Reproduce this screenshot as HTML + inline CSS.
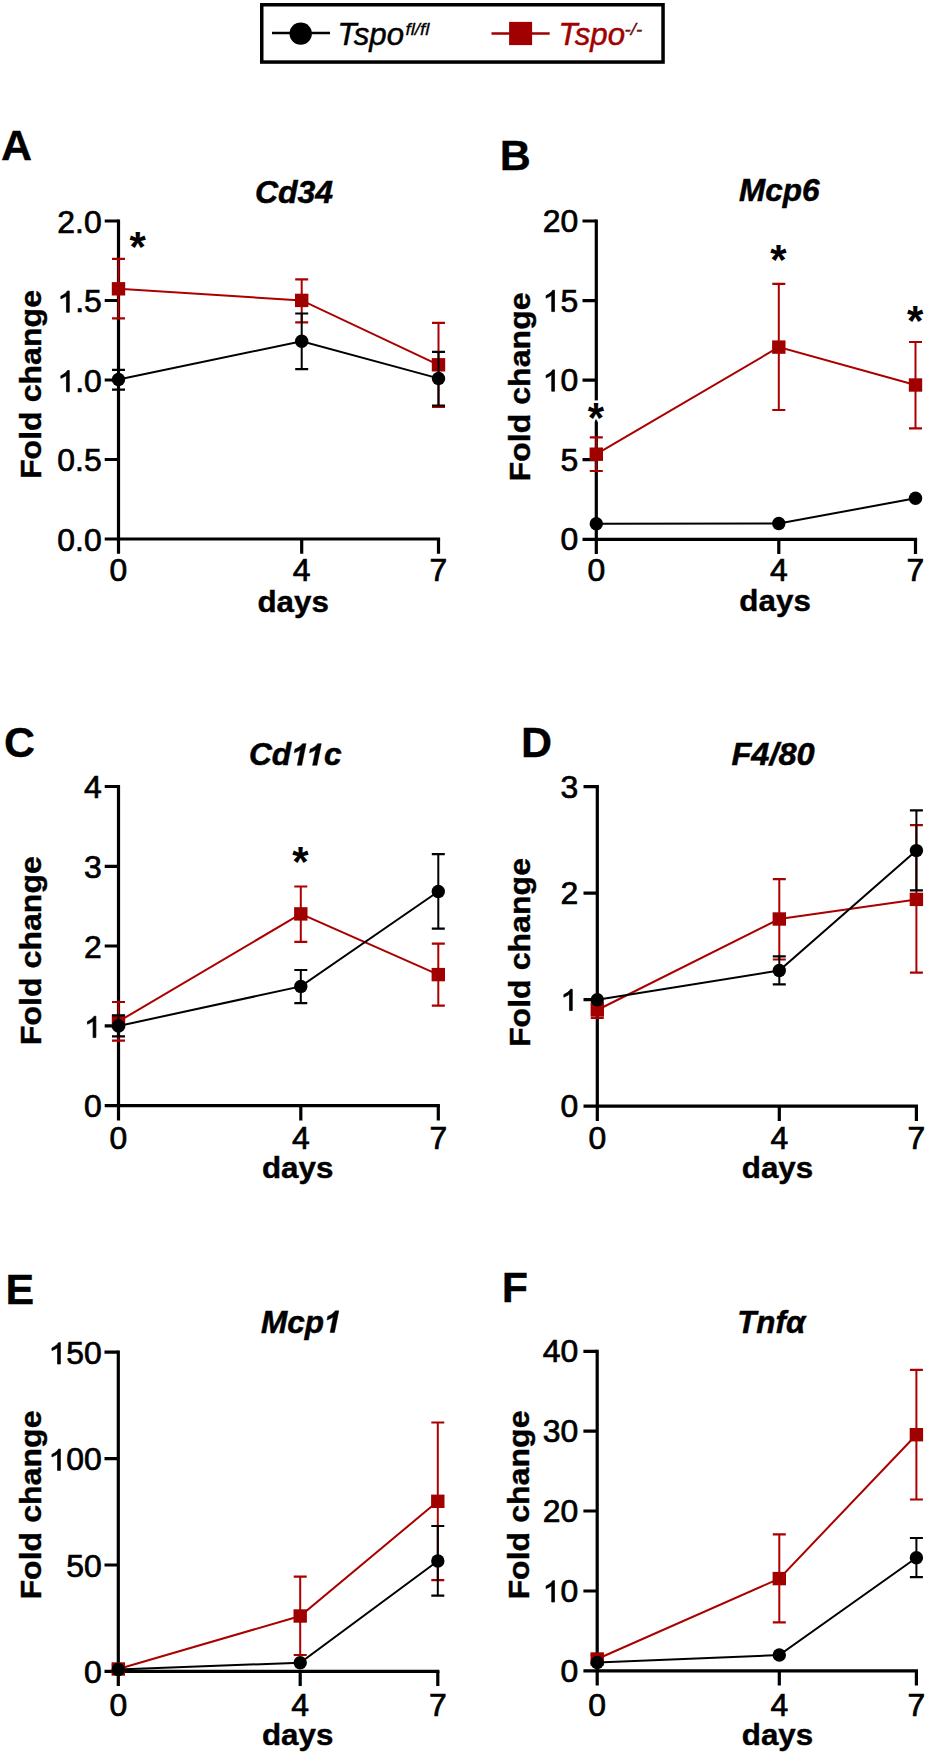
<!DOCTYPE html>
<html><head><meta charset="utf-8"><title>Tspo figure</title>
<style>
html,body{margin:0;padding:0;background:#fff;}
body{width:930px;height:1755px;overflow:hidden;}
svg{display:block;}
text{font-family:'Liberation Sans', sans-serif;}
.tk{font-size:31px;stroke:#000;stroke-width:0.7px;}
.lab{font-size:30.3px;font-weight:bold;stroke:#000;stroke-width:0.4px;}
.tit{font-size:31.5px;font-weight:bold;font-style:italic;stroke:#000;stroke-width:0.5px;}
.let{font-size:43px;font-weight:bold;stroke:#000;stroke-width:0.3px;}
.leg{font-size:32px;font-style:italic;stroke:#000;stroke-width:0.5px;}
.red{fill:#a00000;stroke:#a00000;}
.sup{font-size:17px;font-style:italic;stroke:#000;stroke-width:0.3px;}
.star{font-size:42px;font-weight:bold;}
.h{fill-opacity:0;stroke-opacity:0;}
.onetk{fill:#000;stroke:#000;stroke-width:0.7px;}
.onetit{fill:#000;stroke:#000;stroke-width:0.5px;}
.halo{fill:#fff;stroke:#fff;stroke-width:5px;}
</style></head>
<body>
<svg width="930" height="1755" viewBox="0 0 930 1755">
<rect width="930" height="1755" fill="#fff"/>
<rect x="261.75" y="4.75" width="401.3" height="57.3" fill="#fff" stroke="#000" stroke-width="3.5"/>
<path d="M272 33H330" stroke="#000" stroke-width="2.5"/>
<circle cx="300.7" cy="33.6" r="11.2" fill="#000"/>
<text transform="translate(337.5 45.3) scale(0.975 1.0)" class="leg">Tspo</text>
<text transform="translate(405.5 35) scale(1.1 1.0)" class="sup">fl/fl</text>
<path d="M491.5 33.4H549.7" stroke="#a00000" stroke-width="2.5"/>
<rect x="509.1" y="21.9" width="23" height="23.2" fill="#a00000"/>
<text transform="translate(558.5 45.4) scale(0.975 1.0)" class="leg red">Tspo</text>
<text transform="translate(624.5 35) scale(1.1 1.0)" class="sup red">-/-</text>
<path d="M118.5 221V539M118.5 539H438.5" stroke="#000" stroke-width="3.2" fill="none" stroke-linecap="square"/>
<path d="M104.7 221H118.5M104.7 300.5H118.5M104.7 380H118.5M104.7 459.5H118.5M104.7 539H118.5M118.5 539V553.8M301.7 539V553.8M438.5 539V553.8" stroke="#000" stroke-width="3.2" fill="none"/>
<text transform="translate(101.75 232.8) scale(1.03 1.0)" text-anchor="end" class="tk">2.0</text>
<g transform="translate(101.75 312.3) scale(1.03 1.0)"><text text-anchor="end" class="tk"><tspan class="h">1</tspan>.5</text><path class="onetk" d="M-31.53 -0L-34.26 -0L-34.26 -16.62Q-35.24 -15.72 -36.85 -14.82Q-38.45 -13.92 -39.72 -13.47L-39.72 -16Q-37.44 -17.02 -35.73 -18.49Q-34.02 -19.95 -33.31 -21.33L-31.53 -21.33Z"/></g>
<g transform="translate(101.75 391.8) scale(1.03 1.0)"><text text-anchor="end" class="tk"><tspan class="h">1</tspan>.0</text><path class="onetk" d="M-31.53 -0L-34.26 -0L-34.26 -16.62Q-35.24 -15.72 -36.85 -14.82Q-38.45 -13.92 -39.72 -13.47L-39.72 -16Q-37.44 -17.02 -35.73 -18.49Q-34.02 -19.95 -33.31 -21.33L-31.53 -21.33Z"/></g>
<text transform="translate(101.75 471.3) scale(1.03 1.0)" text-anchor="end" class="tk">0.5</text>
<text transform="translate(101.75 550.8) scale(1.03 1.0)" text-anchor="end" class="tk">0.0</text>
<text transform="translate(118.5 581) scale(1.03 1.0)" text-anchor="middle" class="tk">0</text>
<text transform="translate(301.7 581) scale(1.03 1.0)" text-anchor="middle" class="tk">4</text>
<text transform="translate(438.5 581) scale(1.03 1.0)" text-anchor="middle" class="tk">7</text>
<text transform="translate(257.45 611.7) scale(1.035 1.0)" class="lab">days</text>
<text transform="translate(41 384.5) rotate(-90) scale(1.06 1)" text-anchor="middle" class="lab">Fold change</text>
<text transform="translate(255 202.7) scale(1.015 1.0)" class="tit">Cd34</text>
<text transform="translate(1 160)" class="let">A</text>
<polyline points="118.5,288.8 301.7,300.4 438.5,364.8" fill="none" stroke="#aa0000" stroke-width="2.0"/>
<path d="M118.5 258.8V318.4M301.7 279.4V322.3M438.5 322.8V407" stroke="#aa0000" stroke-width="2.0" fill="none"/>
<path d="M112 258.8H125M112 318.4H125M295.2 279.4H308.2M295.2 322.3H308.2M432 322.8H445M432 407H445" stroke="#aa0000" stroke-width="2.2" fill="none"/>
<rect x="111.8" y="282.1" width="13.4" height="13.4" fill="#a00000"/>
<rect x="295" y="293.7" width="13.4" height="13.4" fill="#a00000"/>
<rect x="431.8" y="358.1" width="13.4" height="13.4" fill="#a00000"/>
<polyline points="118.5,379.5 301.7,341.2 438.5,378.4" fill="none" stroke="#000000" stroke-width="2.0"/>
<path d="M118.5 369.9V389.7M301.7 313.5V369.1M438.5 351.9V405.5" stroke="#000000" stroke-width="2.0" fill="none"/>
<path d="M112 369.9H125M112 389.7H125M295.2 313.5H308.2M295.2 369.1H308.2M432 351.9H445M432 405.5H445" stroke="#000000" stroke-width="2.2" fill="none"/>
<circle cx="118.5" cy="379.5" r="6.7" fill="#000000"/>
<circle cx="301.7" cy="341.2" r="6.7" fill="#000000"/>
<circle cx="438.5" cy="378.4" r="6.7" fill="#000000"/>
<text transform="translate(137.7 261.3)" text-anchor="middle" class="star">*</text>
<path d="M596.3 221V539.3M596.3 539.3H915.5" stroke="#000" stroke-width="3.2" fill="none" stroke-linecap="square"/>
<path d="M582.5 221H596.3M582.5 300.6H596.3M582.5 380.2H596.3M582.5 459.7H596.3M582.5 539.3H596.3M596.3 539.3V554.1M778.8 539.3V554.1M915.5 539.3V554.1" stroke="#000" stroke-width="3.2" fill="none"/>
<text transform="translate(578.14 232) scale(1.03 1.0)" text-anchor="end" class="tk">20</text>
<g transform="translate(578.14 311.6) scale(1.03 1.0)"><text text-anchor="end" class="tk"><tspan class="h">1</tspan>5</text><path class="onetk" d="M-22.93 -0L-25.65 -0L-25.65 -16.62Q-26.64 -15.72 -28.24 -14.82Q-29.85 -13.92 -31.12 -13.47L-31.12 -16Q-28.83 -17.02 -27.12 -18.49Q-25.41 -19.95 -24.7 -21.33L-22.93 -21.33Z"/></g>
<g transform="translate(578.14 391.2) scale(1.03 1.0)"><text text-anchor="end" class="tk"><tspan class="h">1</tspan>0</text><path class="onetk" d="M-22.93 -0L-25.65 -0L-25.65 -16.62Q-26.64 -15.72 -28.24 -14.82Q-29.85 -13.92 -31.12 -13.47L-31.12 -16Q-28.83 -17.02 -27.12 -18.49Q-25.41 -19.95 -24.7 -21.33L-22.93 -21.33Z"/></g>
<text transform="translate(578.14 470.7) scale(1.03 1.0)" text-anchor="end" class="tk">5</text>
<text transform="translate(578.14 550.3) scale(1.03 1.0)" text-anchor="end" class="tk">0</text>
<text transform="translate(596.3 581) scale(1.03 1.0)" text-anchor="middle" class="tk">0</text>
<text transform="translate(778.8 581) scale(1.03 1.0)" text-anchor="middle" class="tk">4</text>
<text transform="translate(915.5 581) scale(1.03 1.0)" text-anchor="middle" class="tk">7</text>
<text transform="translate(739.35 610.8) scale(1.035 1.0)" class="lab">days</text>
<text transform="translate(529.5 386.9) rotate(-90) scale(1.06 1)" text-anchor="middle" class="lab">Fold change</text>
<text transform="translate(739 201)" class="tit">Mcp6</text>
<text transform="translate(499.8 169.7)" class="let">B</text>
<polyline points="596.3,454.2 778.8,347.1 915.5,385" fill="none" stroke="#aa0000" stroke-width="2.0"/>
<path d="M596.3 437.4V471M778.8 283.9V410M915.5 342V428.4" stroke="#aa0000" stroke-width="2.0" fill="none"/>
<path d="M589.8 437.4H602.8M589.8 471H602.8M772.3 283.9H785.3M772.3 410H785.3M909 342H922M909 428.4H922" stroke="#aa0000" stroke-width="2.2" fill="none"/>
<rect x="589.6" y="447.5" width="13.4" height="13.4" fill="#a00000"/>
<rect x="772.1" y="340.4" width="13.4" height="13.4" fill="#a00000"/>
<rect x="908.8" y="378.3" width="13.4" height="13.4" fill="#a00000"/>
<polyline points="596.3,523.7 778.8,523.5 915.5,498.3" fill="none" stroke="#000000" stroke-width="2.0"/>
<circle cx="596.3" cy="523.7" r="6.7" fill="#000000"/>
<circle cx="778.8" cy="523.5" r="6.7" fill="#000000"/>
<circle cx="915.5" cy="498.3" r="6.7" fill="#000000"/>
<text transform="translate(596 432.2)" text-anchor="middle" class="star halo">*</text>
<text transform="translate(596 432.2)" text-anchor="middle" class="star">*</text>
<text transform="translate(778.3 274.4)" text-anchor="middle" class="star">*</text>
<text transform="translate(915.2 334.7)" text-anchor="middle" class="star">*</text>
<path d="M118.5 786.5V1105.6M118.5 1105.6H438.3" stroke="#000" stroke-width="3.2" fill="none" stroke-linecap="square"/>
<path d="M104.7 786.5H118.5M104.7 866.3H118.5M104.7 946H118.5M104.7 1025.8H118.5M104.7 1105.6H118.5M118.5 1105.6V1120.4M300.8 1105.6V1120.4M438.3 1105.6V1120.4" stroke="#000" stroke-width="3.2" fill="none"/>
<text transform="translate(101.75 798.3) scale(1.03 1.0)" text-anchor="end" class="tk">4</text>
<text transform="translate(101.75 878.1) scale(1.03 1.0)" text-anchor="end" class="tk">3</text>
<text transform="translate(101.75 957.8) scale(1.03 1.0)" text-anchor="end" class="tk">2</text>
<g transform="translate(101.75 1037.6) scale(1.03 1.0)"><text text-anchor="end" class="tk"><tspan class="h">1</tspan></text><path class="onetk" d="M-5.69 -0L-8.41 -0L-8.41 -16.62Q-9.4 -15.72 -11 -14.82Q-12.61 -13.92 -13.88 -13.47L-13.88 -16Q-11.59 -17.02 -9.88 -18.49Q-8.17 -19.95 -7.46 -21.33L-5.69 -21.33Z"/></g>
<text transform="translate(101.75 1117.4) scale(1.03 1.0)" text-anchor="end" class="tk">0</text>
<text transform="translate(118.5 1149) scale(1.03 1.0)" text-anchor="middle" class="tk">0</text>
<text transform="translate(300.8 1149) scale(1.03 1.0)" text-anchor="middle" class="tk">4</text>
<text transform="translate(438.3 1149) scale(1.03 1.0)" text-anchor="middle" class="tk">7</text>
<text transform="translate(261.95 1177.9) scale(1.035 1.0)" class="lab">days</text>
<text transform="translate(40.7 950.6) rotate(-90) scale(1.06 1)" text-anchor="middle" class="lab">Fold change</text>
<g transform="translate(249 765.3) scale(1.005 1.0)"><text class="tit">Cd<tspan class="h">1</tspan><tspan class="h" dx="-2.34">1</tspan>c</text><path class="onetit" d="M52.42 -0L48.09 -0L51.21 -15.59Q48.42 -13.47 45 -12.46L45.75 -16.21Q47.55 -16.74 49.83 -18.21Q52.11 -19.7 53.24 -21.67L56.75 -21.67ZM67.6 -0L63.27 -0L66.39 -15.59Q63.6 -13.47 60.18 -12.46L60.93 -16.21Q62.73 -16.74 65.01 -18.21Q67.29 -19.7 68.42 -21.67L71.93 -21.67Z"/></g>
<text transform="translate(4 757)" class="let">C</text>
<polyline points="118.5,1021.5 300.8,913.9 438.3,974.6" fill="none" stroke="#aa0000" stroke-width="2.0"/>
<path d="M118.5 1002V1040.6M300.8 886.5V941.8M438.3 943.6V1005.7" stroke="#aa0000" stroke-width="2.0" fill="none"/>
<path d="M112 1002H125M112 1040.6H125M294.3 886.5H307.3M294.3 941.8H307.3M431.8 943.6H444.8M431.8 1005.7H444.8" stroke="#aa0000" stroke-width="2.2" fill="none"/>
<rect x="111.8" y="1014.8" width="13.4" height="13.4" fill="#a00000"/>
<rect x="294.1" y="907.2" width="13.4" height="13.4" fill="#a00000"/>
<rect x="431.6" y="967.9" width="13.4" height="13.4" fill="#a00000"/>
<polyline points="118.5,1026 300.8,986.4 438.3,891.5" fill="none" stroke="#000000" stroke-width="2.0"/>
<path d="M118.5 1015.4V1036.3M300.8 970V1003.1M438.3 854.2V928.7" stroke="#000000" stroke-width="2.0" fill="none"/>
<path d="M112 1015.4H125M112 1036.3H125M294.3 970H307.3M294.3 1003.1H307.3M431.8 854.2H444.8M431.8 928.7H444.8" stroke="#000000" stroke-width="2.2" fill="none"/>
<circle cx="118.5" cy="1026" r="6.7" fill="#000000"/>
<circle cx="300.8" cy="986.4" r="6.7" fill="#000000"/>
<circle cx="438.3" cy="891.5" r="6.7" fill="#000000"/>
<text transform="translate(300.4 875.9)" text-anchor="middle" class="star">*</text>
<path d="M597.3 786.7V1106.2M597.3 1106.2H916.4" stroke="#000" stroke-width="3.2" fill="none" stroke-linecap="square"/>
<path d="M583.5 786.7H597.3M583.5 893.2H597.3M583.5 999.6H597.3M583.5 1106.2H597.3M597.3 1106.2V1121M779.3 1106.2V1121M916.4 1106.2V1121" stroke="#000" stroke-width="3.2" fill="none"/>
<text transform="translate(578.14 797.7) scale(1.03 1.0)" text-anchor="end" class="tk">3</text>
<text transform="translate(578.14 904.2) scale(1.03 1.0)" text-anchor="end" class="tk">2</text>
<g transform="translate(578.14 1010.6) scale(1.03 1.0)"><text text-anchor="end" class="tk"><tspan class="h">1</tspan></text><path class="onetk" d="M-5.69 -0L-8.41 -0L-8.41 -16.62Q-9.4 -15.72 -11 -14.82Q-12.61 -13.92 -13.88 -13.47L-13.88 -16Q-11.59 -17.02 -9.88 -18.49Q-8.17 -19.95 -7.46 -21.33L-5.69 -21.33Z"/></g>
<text transform="translate(578.14 1117.2) scale(1.03 1.0)" text-anchor="end" class="tk">0</text>
<text transform="translate(597.3 1149) scale(1.03 1.0)" text-anchor="middle" class="tk">0</text>
<text transform="translate(779.3 1149) scale(1.03 1.0)" text-anchor="middle" class="tk">4</text>
<text transform="translate(916.4 1149) scale(1.03 1.0)" text-anchor="middle" class="tk">7</text>
<text transform="translate(741.75 1177.7) scale(1.035 1.0)" class="lab">days</text>
<text transform="translate(529.5 952.5) rotate(-90) scale(1.06 1)" text-anchor="middle" class="lab">Fold change</text>
<text transform="translate(731.4 764.7) scale(1.035 1.0)" class="tit">F4/80</text>
<text transform="translate(520.9 757)" class="let">D</text>
<polyline points="597.3,1010 779.3,919 916.4,899.4" fill="none" stroke="#aa0000" stroke-width="2.0"/>
<path d="M597.3 1003V1018M779.3 879.1V959.5M916.4 825.1V972.6" stroke="#aa0000" stroke-width="2.0" fill="none"/>
<path d="M590.8 1003H603.8M590.8 1018H603.8M772.8 879.1H785.8M772.8 959.5H785.8M909.9 825.1H922.9M909.9 972.6H922.9" stroke="#aa0000" stroke-width="2.2" fill="none"/>
<rect x="590.6" y="1003.3" width="13.4" height="13.4" fill="#a00000"/>
<rect x="772.6" y="912.3" width="13.4" height="13.4" fill="#a00000"/>
<rect x="909.7" y="892.7" width="13.4" height="13.4" fill="#a00000"/>
<polyline points="597.3,999.7 779.3,970.5 916.4,850.6" fill="none" stroke="#000000" stroke-width="2.0"/>
<path d="M779.3 956.4V984.3M916.4 810.4V890.3" stroke="#000000" stroke-width="2.0" fill="none"/>
<path d="M772.8 956.4H785.8M772.8 984.3H785.8M909.9 810.4H922.9M909.9 890.3H922.9" stroke="#000000" stroke-width="2.2" fill="none"/>
<circle cx="597.3" cy="999.7" r="6.7" fill="#000000"/>
<circle cx="779.3" cy="970.5" r="6.7" fill="#000000"/>
<circle cx="916.4" cy="850.6" r="6.7" fill="#000000"/>
<path d="M118.3 1352.2V1671.3M118.3 1671.3H437.8" stroke="#000" stroke-width="3.2" fill="none" stroke-linecap="square"/>
<path d="M104.5 1352.2H118.3M104.5 1458.6H118.3M104.5 1565H118.3M104.5 1671.3H118.3M118.3 1671.3V1686.1M300.2 1671.3V1686.1M437.8 1671.3V1686.1" stroke="#000" stroke-width="3.2" fill="none"/>
<g transform="translate(101.75 1364) scale(1.03 1.0)"><text text-anchor="end" class="tk"><tspan class="h">1</tspan>50</text><path class="onetk" d="M-40.17 -0L-42.89 -0L-42.89 -16.62Q-43.88 -15.72 -45.48 -14.82Q-47.09 -13.92 -48.36 -13.47L-48.36 -16Q-46.07 -17.02 -44.36 -18.49Q-42.65 -19.95 -41.94 -21.33L-40.17 -21.33Z"/></g>
<g transform="translate(101.75 1470.4) scale(1.03 1.0)"><text text-anchor="end" class="tk"><tspan class="h">1</tspan>00</text><path class="onetk" d="M-40.17 -0L-42.89 -0L-42.89 -16.62Q-43.88 -15.72 -45.48 -14.82Q-47.09 -13.92 -48.36 -13.47L-48.36 -16Q-46.07 -17.02 -44.36 -18.49Q-42.65 -19.95 -41.94 -21.33L-40.17 -21.33Z"/></g>
<text transform="translate(101.75 1576.8) scale(1.03 1.0)" text-anchor="end" class="tk">50</text>
<text transform="translate(101.75 1683.1) scale(1.03 1.0)" text-anchor="end" class="tk">0</text>
<text transform="translate(118.3 1716) scale(1.03 1.0)" text-anchor="middle" class="tk">0</text>
<text transform="translate(300.2 1716) scale(1.03 1.0)" text-anchor="middle" class="tk">4</text>
<text transform="translate(437.8 1716) scale(1.03 1.0)" text-anchor="middle" class="tk">7</text>
<text transform="translate(261.95 1745) scale(1.035 1.0)" class="lab">days</text>
<text transform="translate(40.7 1505) rotate(-90) scale(1.06 1)" text-anchor="middle" class="lab">Fold change</text>
<g transform="translate(261 1332.5)"><text class="tit">Mcp<tspan class="h">1</tspan></text><path class="onetit" d="M73.44 -0L69.12 -0L72.24 -15.59Q69.45 -13.47 66.03 -12.46L66.78 -16.21Q68.58 -16.74 70.86 -18.21Q73.14 -19.7 74.27 -21.67L77.78 -21.67Z"/></g>
<text transform="translate(5.5 1304)" class="let">E</text>
<polyline points="118.3,1669 300.2,1616 437.8,1501.3" fill="none" stroke="#aa0000" stroke-width="2.0"/>
<path d="M118.3 1665V1673M300.2 1576.6V1655M437.8 1422.5V1580.2" stroke="#aa0000" stroke-width="2.0" fill="none"/>
<path d="M111.8 1665H124.8M111.8 1673H124.8M293.7 1576.6H306.7M293.7 1655H306.7M431.3 1422.5H444.3M431.3 1580.2H444.3" stroke="#aa0000" stroke-width="2.2" fill="none"/>
<rect x="111.6" y="1662.3" width="13.4" height="13.4" fill="#a00000"/>
<rect x="293.5" y="1609.3" width="13.4" height="13.4" fill="#a00000"/>
<rect x="431.1" y="1494.6" width="13.4" height="13.4" fill="#a00000"/>
<polyline points="118.3,1669.5 300.2,1662.7 437.8,1561" fill="none" stroke="#000000" stroke-width="2.0"/>
<path d="M437.8 1526V1595.7" stroke="#000000" stroke-width="2.0" fill="none"/>
<path d="M431.3 1526H444.3M431.3 1595.7H444.3" stroke="#000000" stroke-width="2.2" fill="none"/>
<circle cx="118.3" cy="1669.5" r="6.7" fill="#000000"/>
<circle cx="300.2" cy="1662.7" r="6.7" fill="#000000"/>
<circle cx="437.8" cy="1561" r="6.7" fill="#000000"/>
<path d="M597.2 1351.3V1670.8M597.2 1670.8H916.4" stroke="#000" stroke-width="3.2" fill="none" stroke-linecap="square"/>
<path d="M583.4 1351.3H597.2M583.4 1431.2H597.2M583.4 1511H597.2M583.4 1591H597.2M583.4 1670.8H597.2M597.2 1670.8V1685.6M779.3 1670.8V1685.6M916.4 1670.8V1685.6" stroke="#000" stroke-width="3.2" fill="none"/>
<text transform="translate(578.14 1362.3) scale(1.03 1.0)" text-anchor="end" class="tk">40</text>
<text transform="translate(578.14 1442.2) scale(1.03 1.0)" text-anchor="end" class="tk">30</text>
<text transform="translate(578.14 1522) scale(1.03 1.0)" text-anchor="end" class="tk">20</text>
<g transform="translate(578.14 1602) scale(1.03 1.0)"><text text-anchor="end" class="tk"><tspan class="h">1</tspan>0</text><path class="onetk" d="M-22.93 -0L-25.65 -0L-25.65 -16.62Q-26.64 -15.72 -28.24 -14.82Q-29.85 -13.92 -31.12 -13.47L-31.12 -16Q-28.83 -17.02 -27.12 -18.49Q-25.41 -19.95 -24.7 -21.33L-22.93 -21.33Z"/></g>
<text transform="translate(578.14 1681.8) scale(1.03 1.0)" text-anchor="end" class="tk">0</text>
<text transform="translate(597.2 1716) scale(1.03 1.0)" text-anchor="middle" class="tk">0</text>
<text transform="translate(779.3 1716) scale(1.03 1.0)" text-anchor="middle" class="tk">4</text>
<text transform="translate(916.4 1716) scale(1.03 1.0)" text-anchor="middle" class="tk">7</text>
<text transform="translate(741.75 1745) scale(1.035 1.0)" class="lab">days</text>
<text transform="translate(528.8 1505) rotate(-90) scale(1.06 1)" text-anchor="middle" class="lab">Fold change</text>
<text transform="translate(737.2 1332.9) scale(0.995 1.0)" class="tit">Tnfα</text>
<text transform="translate(501.8 1302)" class="let">F</text>
<polyline points="597.2,1659 779.3,1578.6 916.4,1434.7" fill="none" stroke="#aa0000" stroke-width="2.0"/>
<path d="M597.2 1655V1663M779.3 1534.3V1622.4M916.4 1369.9V1499.5" stroke="#aa0000" stroke-width="2.0" fill="none"/>
<path d="M590.7 1655H603.7M590.7 1663H603.7M772.8 1534.3H785.8M772.8 1622.4H785.8M909.9 1369.9H922.9M909.9 1499.5H922.9" stroke="#aa0000" stroke-width="2.2" fill="none"/>
<rect x="590.5" y="1652.3" width="13.4" height="13.4" fill="#a00000"/>
<rect x="772.6" y="1571.9" width="13.4" height="13.4" fill="#a00000"/>
<rect x="909.7" y="1428" width="13.4" height="13.4" fill="#a00000"/>
<polyline points="597.2,1662.5 779.3,1655 916.4,1557.7" fill="none" stroke="#000000" stroke-width="2.0"/>
<path d="M916.4 1538V1577.2" stroke="#000000" stroke-width="2.0" fill="none"/>
<path d="M909.9 1538H922.9M909.9 1577.2H922.9" stroke="#000000" stroke-width="2.2" fill="none"/>
<circle cx="597.2" cy="1662.5" r="6.7" fill="#000000"/>
<circle cx="779.3" cy="1655" r="6.7" fill="#000000"/>
<circle cx="916.4" cy="1557.7" r="6.7" fill="#000000"/>
</svg>
</body></html>
